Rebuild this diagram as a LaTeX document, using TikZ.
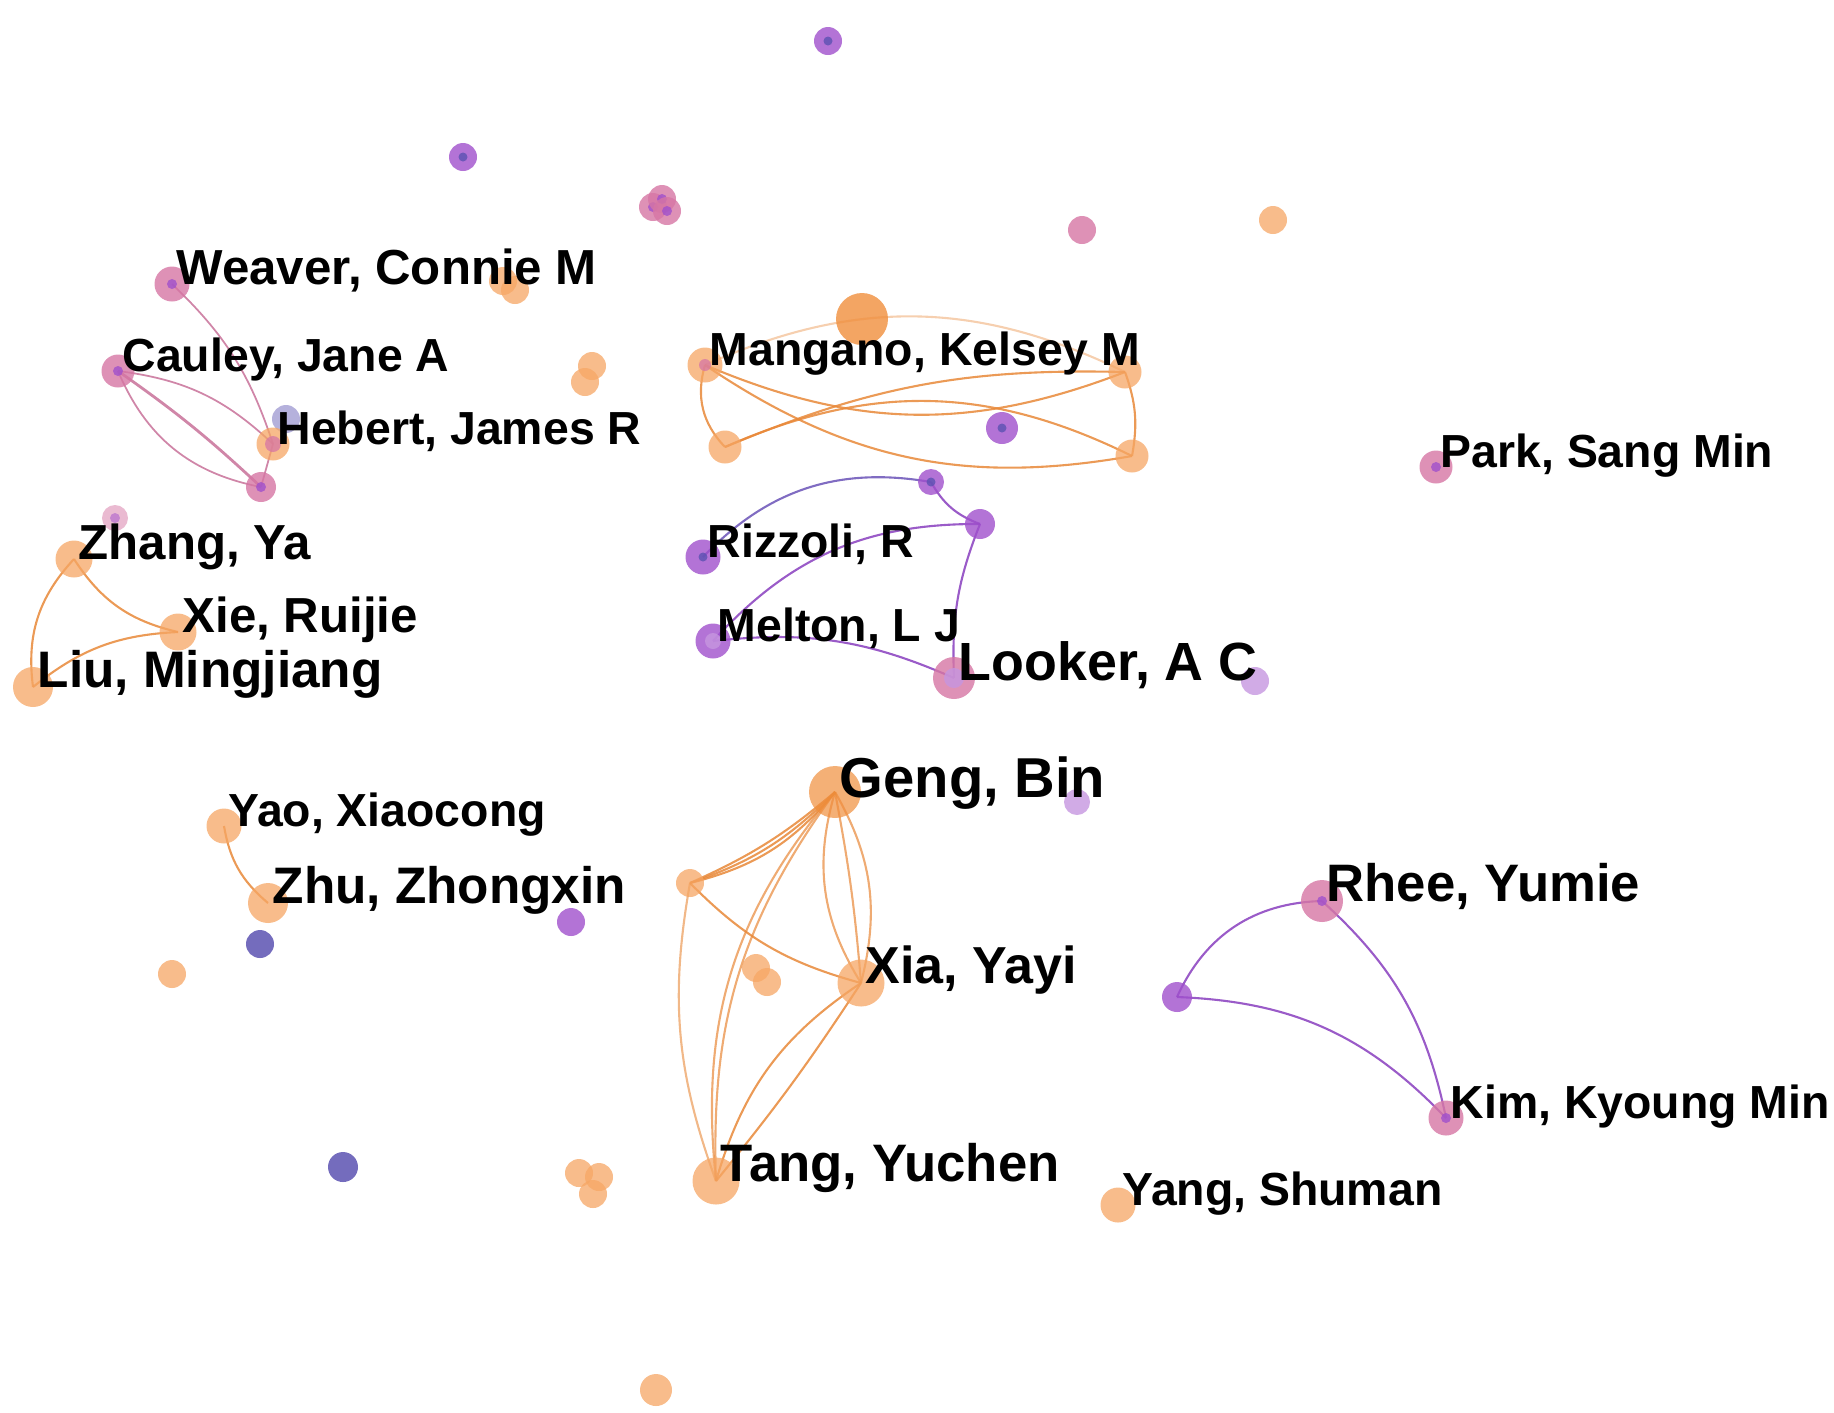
\documentclass[tikz,border=0pt]{standalone}
\usepackage{fontspec}
\setmainfont{Liberation Sans}
\usepackage{tikz}
\usetikzlibrary{positioning}
\pgfdeclarelayer{linkbg}
\pgfsetlayers{linkbg,main}

\definecolor{nodeorange}{RGB}{246,166,100}
\definecolor{darkorange}{RGB}{240,142,60}
\definecolor{edgeorange}{RGB}{232,136,56}
\definecolor{nodepurple}{RGB}{160,80,204}
\definecolor{nodepink}{RGB}{214,118,164}
\definecolor{nodeblue}{RGB}{92,82,178}
\definecolor{nodelilac}{RGB}{198,150,224}
\definecolor{edgepurple}{RGB}{136,62,190}
\definecolor{edgepink}{RGB}{196,104,146}

\tikzset{
	au/.style={circle, inner sep=0pt, minimum size=#1},
	orn/.style={au=#1, fill=nodeorange, fill opacity=0.75},
	orn/.default=3mm,
	ornd/.style={au=#1, fill=darkorange, fill opacity=0.8},
	ornd/.default=5mm,
	prp/.style={au=#1, fill=nodepurple, fill opacity=0.8,
		path picture={\fill[nodeblue] (path picture bounding box.center) circle (0.45mm);}},
	prp/.default=2.8mm,
	pnk/.style={au=#1, fill=nodepink, fill opacity=0.8,
		path picture={\fill[nodepurple] (path picture bounding box.center) circle (0.5mm);}},
	pnk/.default=3.2mm,
	blu/.style={au=#1, fill=nodeblue, fill opacity=0.85},
	blu/.default=2.8mm,
	lil/.style={au=#1, fill=nodelilac, fill opacity=0.8},
	lil/.default=2.6mm,
	lbl/.style={anchor=base west, inner sep=0pt, xshift=0.4mm,
		font=\bfseries\fontsize{13.2}{15}\selectfont},
	lblm/.style={lbl, font=\bfseries\fontsize{14}{16}\selectfont},
	lblb/.style={lbl, font=\bfseries\fontsize{15.3}{17}\selectfont},
	oedge/.style={draw=edgeorange, line width=0.6pt, draw opacity=0.85},
	pedge/.style={draw=edgepurple, line width=0.6pt, draw opacity=0.85},
	kedge/.style={draw=edgepink, line width=0.5pt, draw opacity=0.8},
}

\begin{document}
\begin{tikzpicture}[x=0.1mm, y=-0.1mm]
	\useasboundingbox (0,0) rectangle (1834,1412);
	% Draw the nodes
	% Top row of loose nodes
	\node [prp=2.8mm] (top) at (828,41) {};
	\node [prp=2.8mm] (p1) at (463,157) {};
	\node [pnk=2.8mm] (k1) at (653,207) {};
	\node [pnk=2.8mm] (k2) at (662,199) {};
	\node [pnk=2.8mm] (k3) at (667,211) {};
	\node [pnk=2.8mm, path picture={}] (k4) at (1082,230) {};
	\node [orn=2.8mm] (o1) at (1273,220) {};
	% Weaver group
	\node [orn=2.8mm] (o2) at (503,281) {};
	\node [orn=2.8mm] (o3) at (515,290) {};
	\node [pnk=3.5mm] (weaver) at (172,284) {};
	\node [pnk=3.3mm] (cauley) at (118,371) {};
	\node [blu=2.8mm, fill opacity=0.45] (b1) at (286,419) {};
	\node [orn=3.3mm, path picture={\fill[nodepink] (path picture bounding box.center) circle (0.8mm);}] (hebert) at (273,444) {};
	\node [pnk=3mm] (k5) at (261,487) {};
	\node [pnk=2.6mm, fill opacity=0.5] (k6) at (115,518) {};
	% Zhang group
	\node [orn=3.7mm] (zhang) at (74,559) {};
	\node [orn=3.7mm] (xie) at (178,632) {};
	\node [orn=4mm] (liu) at (33,687) {};
	% Mangano group
	\node [orn=2.8mm] (o4) at (592,366) {};
	\node [orn=2.8mm] (o5) at (585,382) {};
	\node [ornd=5.2mm] (o6) at (862,319) {};
	\node [orn=3.5mm, path picture={\fill[nodepink] (path picture bounding box.center) circle (0.6mm);}] (mangano) at (705,365) {};
	\node [orn=3.3mm] (mr1) at (1125,372) {};
	\node [orn=3.3mm] (ml2) at (725,447) {};
	\node [orn=3.3mm] (mr2) at (1132,456) {};
	\node [prp=3.2mm] (p2) at (1002,428) {};
	\node [pnk=3.3mm] (park) at (1436,467) {};
	% Rizzoli group
	\node [prp=2.6mm] (p3) at (931,482) {};
	\node [prp=3mm, path picture={}] (p4) at (980,524) {};
	\node [prp=3.5mm] (rizzoli) at (703,557) {};
	\node [prp=3.5mm, path picture={\fill[nodelilac] (path picture bounding box.center) circle (0.8mm);}] (melton) at (713,641) {};
	\node [pnk=4.2mm, path picture={\fill[nodelilac] (path picture bounding box.center) circle (1mm);}] (looker) at (954,678) {};
	\node [lil=2.8mm] (l1) at (1255,681) {};
	% Geng group
	\node [ornd=5.2mm, fill opacity=0.7] (geng) at (835,792) {};
	\node [lil=2.6mm] (l2) at (1077,802) {};
	\node [orn=2.8mm] (ga) at (690,883) {};
	\node [orn=2.8mm] (o7) at (756,968) {};
	\node [orn=2.8mm] (o8) at (767,982) {};
	\node [orn=4.7mm] (xia) at (861,983) {};
	\node [orn=4.7mm] (tang) at (716,1181) {};
	% Zhu group and loose nodes
	\node [orn=3.5mm] (yao) at (224,826) {};
	\node [orn=4mm] (zhu) at (268,903) {};
	\node [prp=2.8mm, path picture={}] (p5) at (571,922) {};
	\node [blu=2.8mm] (b2) at (260,944) {};
	\node [orn=2.8mm] (o9) at (172,974) {};
	\node [blu=3mm] (b3) at (343,1167) {};
	\node [orn=2.8mm] (o10) at (579,1173) {};
	\node [orn=2.8mm] (o11) at (599,1177) {};
	\node [orn=2.8mm] (o12) at (593,1194) {};
	\node [orn=3.5mm] (yang) at (1118,1205) {};
	\node [orn=3.2mm] (o13) at (656,1390) {};
	% Rhee group
	\node [pnk=4.2mm] (rhee) at (1322,901) {};
	\node [prp=3mm, path picture={}] (p6) at (1177,997) {};
	\node [pnk=3.5mm] (kim) at (1446,1118) {};

	% Labels
	\node [lblm] (tweaver) at (weaver.center) {Weaver, Connie M};
	\node [lbl] (tcauley) at (cauley.center) {Cauley, Jane A};
	\node [lbl] (thebert) at (hebert.center) {Hebert, James R};
	\node [lblm] (tzhang) at (zhang.center) {Zhang, Ya};
	\node [lblm] (txie) at (xie.center) {Xie, Ruijie};
	\node [lblb, font=\bfseries\fontsize{14.6}{17}\selectfont] (tliu) at (liu.center) {Liu, Mingjiang};
	\node [lbl] (tmangano) at (mangano.center) {Mangano, Kelsey M};
	\node [lbl] (tpark) at (park.center) {Park, Sang Min};
	\node [lbl] (trizzoli) at (rizzoli.center) {Rizzoli, R};
	\node [lbl] (tmelton) at (melton.center) {Melton, L J};
	\node [lblb] (tlooker) at ([yshift=-0.2mm]looker.center) {Looker, A C};
	\node [lblb, font=\bfseries\fontsize{16}{18}\selectfont] (tgeng) at ([yshift=-0.5mm]geng.center) {Geng, Bin};
	\node [lbl] (tyao) at (yao.center) {Yao, Xiaocong};
	\node [lblb, font=\bfseries\fontsize{14.6}{17}\selectfont] (tzhu) at (zhu.center) {Zhu, Zhongxin};
	\node [lblb, font=\bfseries\fontsize{15}{17}\selectfont] (trhee) at (rhee.center) {Rhee, Yumie};
	\node [lblb, font=\bfseries\fontsize{14.8}{17}\selectfont] (txia) at (xia.center) {Xia, Yayi};
	\node [lbl] (tkim) at (kim.center) {Kim, Kyoung Min};
	\node [lblb, font=\bfseries\fontsize{15}{17}\selectfont] (ttang) at (tang.center) {Tang, Yuchen};
	\node [lbl] (tyang) at (yang.center) {Yang, Shuman};

	% Draw the links between nodes
	\begin{pgfonlayer}{linkbg}
	% Weaver group
	\draw [kedge] (weaver.center) to [bend left=14] (hebert.center);
	\draw [kedge] (cauley.center) to [bend left=18] (hebert.center);
	\draw [kedge] (cauley.center) to [bend right=28] (k5.center);
	\draw [kedge, line width=0.8pt] (cauley.center) to [bend left=4] (k5.center);
	\draw [kedge] (hebert.center) -- (k5.center);
	% Zhang group
	\draw [oedge] (zhang.center) to [bend right=22] (xie.center);
	\draw [oedge] (zhang.center) to [bend right=25] (liu.center);
	\draw [oedge] (liu.center) to [bend left=18] (xie.center);
	% Mangano group
	\draw [oedge, draw opacity=0.4] (mangano.center) to [bend left=25] (mr1.center);
	\draw [oedge] (mangano.center) to [bend right=22] (mr1.center);
	\draw [oedge] (mangano.center) to [bend right=30] (ml2.center);
	\draw [oedge] (mangano.center) to [bend right=22] (mr2.center);
	\draw [oedge] (mr1.center) to [bend left=15] (mr2.center);
	\draw [oedge] (ml2.center) to [bend left=12] (mr1.center);
	\draw [oedge] (ml2.center) to [bend left=25] (mr2.center);
	% Rizzoli group
	\draw [pedge, draw=nodeblue!80!nodepurple] (rizzoli.center) to [bend left=28] (p3.center);
	\draw [pedge] (p3.center) to [bend right=20] (p4.center);
	\draw [pedge] (melton.center) to [bend left=24] (p4.center);
	\draw [pedge] (p4.center) to [bend right=12] (looker.center);
	\draw [pedge] (melton.center) to [bend left=15] (looker.center);
	% Geng group
	\draw [oedge] (ga.center) to [bend right=8] (geng.center);
	\draw [oedge] (ga.center) to [bend right=13] (geng.center);
	\draw [oedge] (ga.center) to [bend right=18] (geng.center);
	\draw [oedge] (ga.center) to [bend right=15] (xia.center);
	\draw [oedge, draw opacity=0.6] (ga.center) to [bend right=15] (tang.center);
	\draw [oedge, draw opacity=0.7] (geng.center) to [bend right=19] (tang.center);
	\draw [oedge, draw opacity=0.7] (geng.center) to [bend right=23] (tang.center);
	\draw [oedge, draw opacity=0.7] (geng.center) to [bend right=24] (xia.center);
	\draw [oedge, draw opacity=0.7] (geng.center) to [bend left=3] (xia.center);
	\draw [oedge, draw opacity=0.7] (geng.center) to [bend left=22] (xia.center);
	\draw [oedge] (xia.center) to [bend right=20] (tang.center);
	\draw [oedge] (xia.center) to [bend left=3] (tang.center);
	% Zhu group
	\draw [oedge] (yao.center) to [bend right=20] (zhu.center);
	% Rhee group
	\draw [pedge] (p6.center) to [bend left=32] (rhee.center);
	\draw [pedge] (p6.center) to [bend left=22] (kim.center);
	\draw [pedge] (rhee.center) to [bend left=18] (kim.center);
	\end{pgfonlayer}
\end{tikzpicture}
\end{document}
